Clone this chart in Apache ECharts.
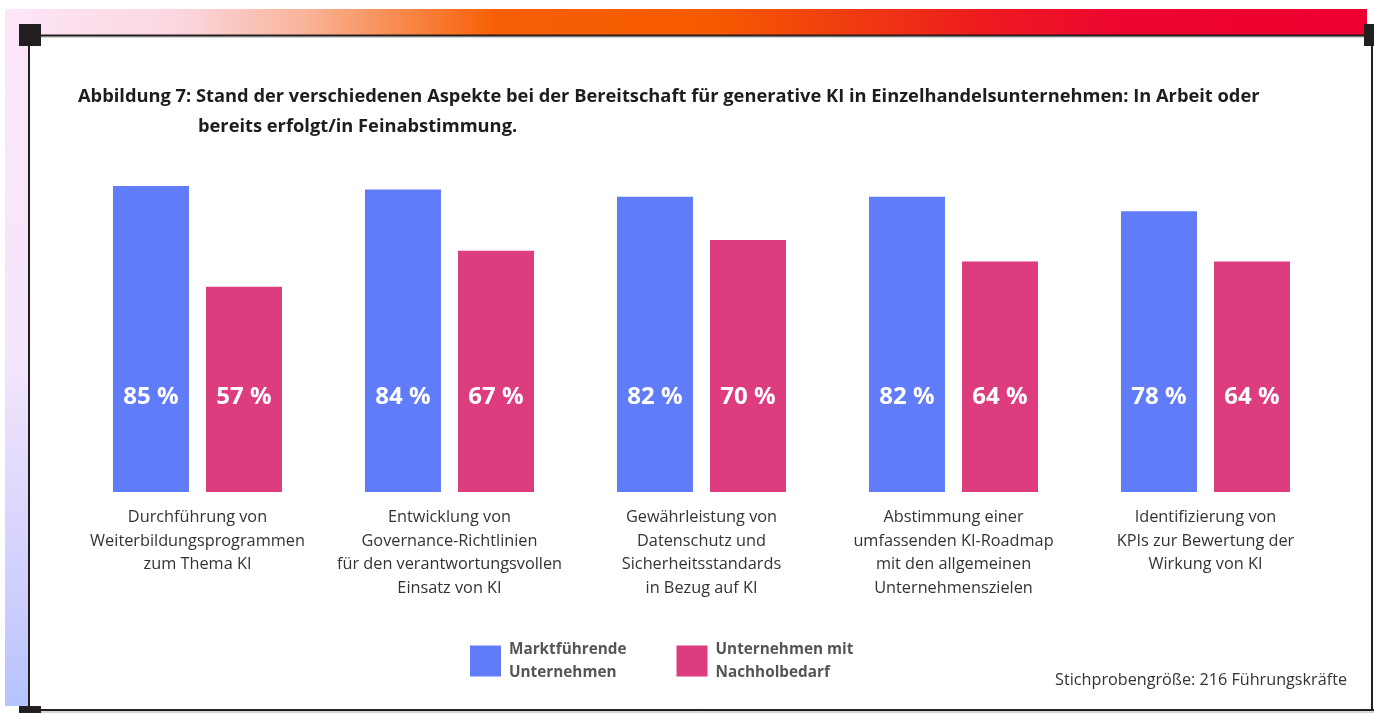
<!DOCTYPE html>
<html>
<head>
<meta charset="utf-8">
<script src="https://cdn.jsdelivr.net/npm/echarts@6/dist/echarts.min.js"></script>
<style>
html,body{margin:0;padding:0;background:#fff;}
#chart{width:1374px;height:713px;}
</style>
</head>
<body>
<div id="chart"></div>
<script>
const categories = [
  "Durchführung von\nWeiterbildungsprogrammen\nzum Thema KI",
  "Entwicklung von\nGovernance-Richtlinien\nfür den verantwortungsvollen\nEinsatz von KI",
  "Gewährleistung von\nDatenschutz und\nSicherheitsstandards\nin Bezug auf KI",
  "Abstimmung einer\numfassenden KI-Roadmap\nmit den allgemeinen\nUnternehmenszielen",
  "Identifizierung von\nKPIs zur Bewertung der\nWirkung von KI"
];
const seriesNames = ["Marktführende Unternehmen", "Unternehmen mit Nachholbedarf"];
const legendLabels = ["Marktführende\nUnternehmen", "Unternehmen mit\nNachholbedarf"];
const leaders = [85, 84, 82, 82, 78];
const laggards = [57, 67, 70, 64, 64];
const yTicks = [0, 100];

const titleLine1 = "Abbildung 7: Stand der verschiedenen Aspekte bei der Bereitschaft für generative KI in Einzelhandelsunternehmen: In Arbeit oder";
const titleLine2 = "bereits erfolgt/in Feinabstimmung.";
const footnote = "Stichprobengröße: 216 Führungskräfte";

const FONT = "'Open Sans', 'Noto Sans', sans-serif";
const BLUE = "#607cf8";
const PINK = "#dd3c7e";

const chart = echarts.init(document.getElementById('chart'), null, {renderer: 'canvas'});

const barLabel = {
  show: true,
  position: 'insideBottom',
  distance: 83,
  color: '#fff',
  fontFamily: FONT,
  fontWeight: 'bold',
  fontSize: 24,
  formatter: p => p.value + ' %'
};

const option = {
  backgroundColor: '#fff',
  animation: false,
  title: [
    {text: titleLine1, left: 78, top: 88, padding: 0,
     textStyle: {fontFamily: FONT, fontWeight: 'bold', fontSize: 18.3, color: '#1d1d1d'}},
    {text: titleLine2, left: 198, top: 118, padding: 0,
     textStyle: {fontFamily: FONT, fontWeight: 'bold', fontSize: 18.3, color: '#1d1d1d'}},
    {text: footnote, right: 27, top: 672, padding: 0,
     textStyle: {fontFamily: FONT, fontWeight: 'normal', fontSize: 16.2, color: '#333'}}
  ],
  legend: {
    left: 470, top: 638, padding: 0,
    itemWidth: 31, itemHeight: 31, itemGap: 50,
    icon: 'rect',
    formatter: name => legendLabels[seriesNames.indexOf(name)],
    textStyle: {fontFamily: FONT, fontWeight: 'bold', fontSize: 15.3, color: '#555', lineHeight: 23, padding: [0,0,0,3]},
    data: seriesNames
  },
  grid: {left: 71.5, width: 1260, top: 132, bottom: 221, containLabel: false},
  xAxis: {
    type: 'category',
    data: categories,
    axisLine: {show: false}, axisTick: {show: false},
    axisLabel: {interval: 0, margin: 14, fontFamily: FONT, fontSize: 16.3, color: '#333', lineHeight: 23.5}
  },
  yAxis: {
    type: 'value', min: yTicks[0], max: yTicks[1], show: false,
    splitLine: {show: false}
  },
  series: [
    {name: seriesNames[0], type: 'bar', data: leaders, barWidth: 76, barGap: '22.4%',
     itemStyle: {color: BLUE}, label: barLabel},
    {name: seriesNames[1], type: 'bar', data: laggards, barWidth: 76,
     itemStyle: {color: PINK}, label: barLabel}
  ],
  graphic: [
    {type: 'rect', z: -1, shape: {x: 5, y: 9, width: 1362, height: 26},
     style: {fill: new echarts.graphic.LinearGradient(0, 0, 1, 0, [
       {offset: 0, color: '#fde6f8'},
       {offset: 0.13, color: '#fbd6df'},
       {offset: 0.22, color: '#f9b49a'},
       {offset: 0.29, color: '#f88a4c'},
       {offset: 0.36, color: '#f75f06'},
       {offset: 0.52, color: '#f65a00'},
       {offset: 0.62, color: '#f03c10'},
       {offset: 0.72, color: '#ed1a1f'},
       {offset: 0.82, color: '#ee0630'},
       {offset: 1, color: '#ee0030'}
     ])}},
    {type: 'rect', z: -1, shape: {x: 5, y: 9, width: 23, height: 697},
     style: {fill: new echarts.graphic.LinearGradient(0, 0, 0, 1, [
       {offset: 0, color: '#fde5f8'},
       {offset: 0.5, color: '#f4e6fc'},
       {offset: 0.85, color: '#cdcdfd'},
       {offset: 1, color: '#b4c4fd'}
     ])}},
    {type: 'rect', z: 0, shape: {x: 29, y: 36, width: 1342, height: 673}, style: {fill: '#fff'}},
    {type: 'line', z: 1, shape: {x1: 29, y1: 37, x2: 1371, y2: 37}, style: {stroke: '#aaa', lineWidth: 1}},
    {type: 'line', z: 2, shape: {x1: 28, y1: 35.5, x2: 1374, y2: 35.5}, style: {stroke: '#231f20', lineWidth: 2}},
    {type: 'line', z: 2, shape: {x1: 29, y1: 35, x2: 29, y2: 711}, style: {stroke: '#231f20', lineWidth: 2}},
    {type: 'line', z: 2, shape: {x1: 1372, y1: 35, x2: 1372, y2: 711}, style: {stroke: '#231f20', lineWidth: 2}},
    {type: 'line', z: 1, shape: {x1: 29, y1: 712, x2: 1374, y2: 712}, style: {stroke: '#aaa', lineWidth: 1}},
    {type: 'line', z: 2, shape: {x1: 28, y1: 710, x2: 1374, y2: 710}, style: {stroke: '#231f20', lineWidth: 2}},
    {type: 'rect', z: 3, shape: {x: 19, y: 24, width: 22, height: 22}, style: {fill: '#231f20'}},
    {type: 'rect', z: 3, shape: {x: 1364, y: 24, width: 22, height: 22}, style: {fill: '#231f20'}},
    {type: 'rect', z: 3, shape: {x: 19, y: 706, width: 22, height: 22}, style: {fill: '#231f20'}}
  ]
};
chart.setOption(option);
</script>
</body>
</html>
